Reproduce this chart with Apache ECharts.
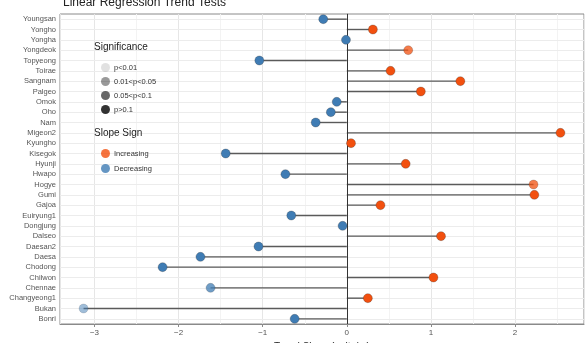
<!DOCTYPE html>
<html>
<head>
<meta charset="utf-8">
<script src="https://cdn.jsdelivr.net/npm/echarts@6/dist/echarts.min.js"></script>
<style>
html,body{margin:0;padding:0;background:#fff;}
#chart{width:588px;height:343px;}
</style>
</head>
<body>
<div id="chart"></div>
<script>
// sites from top to bottom
var sites = ['Youngsan','Yongho','Yongha','Yongdeok','Topyeong','Toirae','Sangnam','Palgeo','Omok','Oho',
	'Nam','Migeon2','Kyungho','Kisegok','Hyunji','Hwapo','Hogye','Gumi','Gajoa','Euiryung1',
	'Dongjung','Dalseo','Daesan2','Daesa','Chodong','Chilwon','Chennae','Changyeong1','Bukan','Bonri'];
var slopes = [-0.28, 0.31, -0.01, 0.73, -1.04, 0.52, 1.35, 0.88, -0.12, -0.19,
	-0.37, 2.54, 0.05, -1.44, 0.70, -0.73, 2.22, 2.23, 0.40, -0.66,
	-0.05, 1.12, -1.05, -1.74, -2.19, 1.03, -1.62, 0.25, -3.13, -0.62];
var significance = ['p>0.1','p>0.1','p>0.1','0.05<p<0.1','p>0.1','p>0.1','p>0.1','p>0.1','p>0.1','p>0.1',
	'p>0.1','p>0.1','p>0.1','p>0.1','p>0.1','p>0.1','0.05<p<0.1','p>0.1','p>0.1','p>0.1',
	'p>0.1','p>0.1','p>0.1','p>0.1','p>0.1','p>0.1','0.05<p<0.1','p>0.1','0.01<p<0.05','p>0.1'];
var sigLevels = ['p<0.01','0.01<p<0.05','0.05<p<0.1','p>0.1'];
var sigAlpha = [0.15, 0.5, 0.75, 1];
var signLevels = ['Increasing','Decreasing'];

var incColor = '#f2500f';
var decColor = '#3f7cb4';
var fontFam = 'Liberation Sans, Arial, sans-serif';

var myChart = echarts.init(document.getElementById('chart'));

var pointData = slopes.map(function (v, i) {
	return {
		value: [v, sites[i]],
		itemStyle: {
			color: v >= 0 ? incColor : decColor,
			opacity: sigAlpha[sigLevels.indexOf(significance[i])]
		}
	};
});

var series = [
	{
		name: 'stems',
		type: 'bar',
		data: slopes,
		barWidth: 1.4,
		itemStyle: { color: '#5a5a5a' },
		silent: true,
		z: 2,
		markLine: {
			silent: true,
			symbol: 'none',
			label: { show: false },
			lineStyle: { color: '#ececec', type: 'solid', width: 1 },
			data: sites.map(function (s) { return { yAxis: s }; }),
			z: 1
		}
	},
	{
		name: 'zero',
		type: 'scatter',
		data: [],
		markLine: {
			silent: true,
			symbol: 'none',
			label: { show: false },
			lineStyle: { color: '#333', type: 'solid', width: 1 },
			data: [{ xAxis: 0 }]
		},
		z: 3
	},
	{
		name: 'points',
		type: 'scatter',
		data: pointData,
		symbolSize: 9,
		itemStyle: { borderColor: 'rgba(40,40,40,0.45)', borderWidth: 0.6 },
		z: 5
	}
];
// legend-only series
sigLevels.forEach(function (s, i) {
	series.push({ name: s, type: 'scatter', data: [], itemStyle: { color: 'rgba(0,0,0,' + sigAlpha[i] + ')' } });
});
series.push({ name: 'Increasing', type: 'scatter', data: [], itemStyle: { color: incColor } });
series.push({ name: 'Decreasing', type: 'scatter', data: [], itemStyle: { color: decColor } });

var option = {
	backgroundColor: '#fff',
	animation: false,
	textStyle: { fontFamily: fontFam },
	title: {
		text: 'Linear Regression Trend Tests',
		left: 58, top: -8,
		textStyle: { fontSize: 12, fontWeight: 'normal', color: '#222', fontFamily: fontFam }
	},
	grid: {
		left: 60, right: 4, top: 14, bottom: 19,
		outerBoundsMode: 'none', containLabel: false,
		show: true, borderColor: '#8a8a8a', borderWidth: 1, backgroundColor: 'transparent'
	},
	legend: [
		{
			data: sigLevels,
			orient: 'vertical', left: 96, top: 58,
			icon: 'circle', itemWidth: 9, itemHeight: 9, itemGap: 5,
			selectedMode: false, z: 20,
			textStyle: { fontSize: 7.5, color: '#333', padding: [0, 0, 0, -1] }
		},
		{
			data: signLevels,
			orient: 'vertical', left: 96, top: 144,
			icon: 'circle', itemWidth: 9, itemHeight: 9, itemGap: 6,
			selectedMode: false, z: 20,
			textStyle: { fontSize: 7.5, color: '#333', padding: [0, 0, 0, -1] }
		}
	],
	graphic: [
		{ type: 'text', left: 94, top: 42, z: 100, style: { text: 'Significance', fontSize: 10, fill: '#222', fontFamily: fontFam } },
		{ type: 'text', left: 94, top: 128, z: 100, style: { text: 'Slope Sign', fontSize: 10, fill: '#222', fontFamily: fontFam } }
	],
	xAxis: {
		type: 'value',
		min: -3.41, max: 2.82,
		splitNumber: 6,
		name: 'Trend Slope (units/yr)',
		nameLocation: 'middle', nameGap: 17,
		nameTextStyle: { fontSize: 10, color: '#222' },
		axisLine: { show: true, onZero: false, lineStyle: { color: '#8a8a8a' } },
		axisTick: { show: true, length: 3, lineStyle: { color: '#8a8a8a' } },
		axisLabel: {
			fontSize: 8, color: '#555', margin: 5,
			showMinLabel: false, showMaxLabel: false,
			formatter: function (v) { return Math.abs(v - Math.round(v)) < 1e-6 ? String(Math.round(v)).replace('-', '\u2212') : ''; }
		},
		splitLine: { show: true, lineStyle: { color: '#e6e6e6', width: 1 } },
		minorTick: { show: false, splitNumber: 2 },
		minorSplitLine: { show: true, lineStyle: { color: '#f3f3f3', width: 1 } }
	},
	yAxis: {
		type: 'category',
		data: sites,
		inverse: true,
		name: 'Site',
		nameLocation: 'middle', nameGap: 55, nameRotate: 90,
		nameTextStyle: { fontSize: 10, color: '#222' },
		axisLine: { show: true, lineStyle: { color: '#8a8a8a' } },
		axisTick: { show: true, alignWithLabel: true, length: 3, lineStyle: { color: '#8a8a8a' } },
		axisLabel: { fontSize: 7.5, color: '#555', margin: 4, interval: 0 },
		splitLine: { show: false }
	},
	series: series
};
myChart.setOption(option);
</script>
</body>
</html>
